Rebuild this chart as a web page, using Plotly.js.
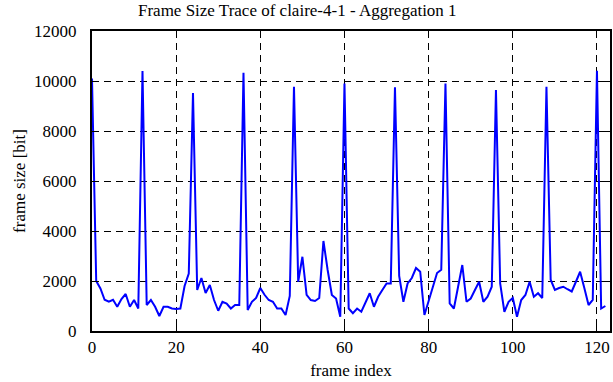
<!DOCTYPE html>
<html>
<head>
<meta charset="utf-8">
<script src="https://cdn.plot.ly/plotly-3.0.1.min.js"></script>
<style>html,body{margin:0;padding:0;background:#fff;}#chart{width:613px;height:382px;}</style>
</head>
<body>
<div id="chart"></div>
<script>
// frame sizes [bit] for frame index 0..122
var frameSize = [
  10100, 2000, 1700, 1250, 1170, 1250, 970, 1280, 1480, 970, 1240, 900,
  10400, 1040, 1240, 970, 600, 970, 970, 900, 880, 900, 1800, 2300,
  9520, 1640, 2120, 1520, 1840, 1240, 810, 1170, 1100, 900, 1040, 1040,
  10330, 840, 1170, 1320, 1720, 1450, 1240, 1170, 900, 900, 640, 1400,
  9770, 1970, 2970, 1450, 1240, 1200, 1320, 3600, 2440, 1440, 1300, 570,
  9900, 900, 710, 900, 770, 1170, 1510, 970, 1370, 1640, 1900, 1900,
  9750, 2200, 1170, 1900, 2120, 2520, 2370, 640, 1170, 1720, 2320, 2450,
  9900, 1100, 900, 1770, 2640, 1170, 1300, 1640, 1970, 1170, 1370, 1770,
  9640, 1900, 770, 1170, 1320, 570, 1240, 1440, 1970, 1370, 1510, 1320,
  9770, 2050, 1640, 1720, 1770, 1670, 1580, 1970, 2370, 1720, 1040, 1240,
  10410, 900, 1000
];
var frameIndex = frameSize.map(function(_, i){ return i; });
var xTicks = [0, 20, 40, 60, 80, 100, 120];
var yTicks = [0, 2000, 4000, 6000, 8000, 10000, 12000];
var yTickText = ['0', '2000', '4000', '6000', '8000', '10000', '12000'];

var serif = "Liberation Serif";
var trace = {
  x: frameIndex, y: frameSize, type: 'scatter', mode: 'lines',
  line: {color: '#0000ff', width: 2}, hoverinfo: 'none'
};
var axisCommon = {
  showline: true, linecolor: '#000', linewidth: 2, mirror: 'ticks',
  ticks: 'inside', ticklen: 7, tickwidth: 1, tickcolor: '#000',
  showgrid: true, gridcolor: '#000', griddash: '7px,5px', gridwidth: 1,
  zeroline: false, tickfont: {family: serif, size: 17, color: '#000'}
};
var layout = {
  width: 613, height: 382,
  margin: {l: 92, r: 3, t: 31, b: 51},
  paper_bgcolor: '#fff', plot_bgcolor: '#fff',
  showlegend: false,
  font: {family: serif, color: '#000'},
  title: {text: 'Frame Size Trace of claire-4-1 - Aggregation 1',
          font: {family: serif, size: 17, color: '#000'},
          x: 0.485, xanchor: 'center', y: 0.99, yanchor: 'top'},
  xaxis: Object.assign({}, axisCommon, {
    range: [0, 123.1], tickmode: 'array', tickvals: xTicks,
    title: {text: 'frame index', font: {family: serif, size: 17, color: '#000'}, standoff: 8}
  }),
  yaxis: Object.assign({}, axisCommon, {
    range: [0, 12000], tickmode: 'array', tickvals: yTicks, ticktext: yTickText,
    ticklabelstandoff: 10,
    title: {text: 'frame size [bit]', font: {family: serif, size: 17, color: '#000'}, standoff: 4}
  })
};
Plotly.newPlot('chart', [trace], layout, {staticPlot: true, displayModeBar: false});
</script>
</body>
</html>
